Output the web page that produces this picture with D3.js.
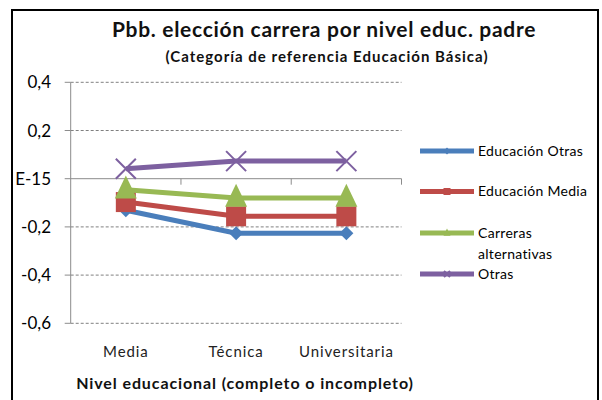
<!DOCTYPE html>
<html>
<head>
<meta charset="utf-8">
<script src="https://cdn.jsdelivr.net/npm/d3@7"></script>
<style>
  body { margin: 0; background: #fff; }
  svg { display: block; font-family: Lato, "Open Sans", sans-serif; }
</style>
</head>
<body>
<div id="chart"></div>
<script>
// Education levels (x categories)
const niveles = ["Media", "Técnica", "Universitaria"];

// One array per series
const educOtras   = [-0.131, -0.226, -0.226];
const educMedia   = [-0.097, -0.156, -0.156];
const carrerasAlt = [-0.046, -0.080, -0.080];
const otras       = [0.041, 0.073, 0.073];

const yTicks = [0.4, 0.2, 0, -0.2, -0.4, -0.6];
// Excel printed the zero as a tiny float, only "E-15" is visible in the frame
const yTickLabels = ["0,4", "0,2", "E-15", "-0,2", "-0,4", "-0,6"];

const seriesNames = ["Educación Otras", "Educación Media", "Carreras alternativas", "Otras"];

const series = [
  { name: seriesNames[0], values: educOtras,   color: "#4A7EBB", marker: "diamond" },
  { name: seriesNames[1], values: educMedia,   color: "#BE4B48", marker: "square" },
  { name: seriesNames[2], values: carrerasAlt, color: "#98B954", marker: "triangle" },
  { name: seriesNames[3], values: otras,       color: "#7D60A0", marker: "x" },
];

const W = 602, H = 400;
const svg = d3.select("#chart").append("svg").attr("width", W).attr("height", H);

const x = d3.scaleBand().domain(niveles).range([70.7, 401.5]);
const y = d3.scaleLinear().domain([-0.6, 0.4]).range([323.3, 82.3]);

const grid = svg.append("g");

// dashed gridlines (zero line drawn solid)
grid.selectAll("line.grid")
  .data(yTicks.filter(d => d !== 0))
  .enter().append("line")
  .attr("x1", x.range()[0]).attr("x2", x.range()[1])
  .attr("y1", d => y(d)).attr("y2", d => y(d))
  .attr("stroke", "#808080").attr("stroke-width", 1)
  .attr("stroke-dasharray", "3,2");

// y axis
grid.append("line")
  .attr("x1", x.range()[0]).attr("x2", x.range()[0])
  .attr("y1", y(0.4)).attr("y2", y(-0.6))
  .attr("stroke", "#8c8c8c");

grid.selectAll("line.ytick")
  .data(yTicks)
  .enter().append("line")
  .attr("x1", x.range()[0] - 6).attr("x2", x.range()[0])
  .attr("y1", d => y(d)).attr("y2", d => y(d))
  .attr("stroke", "#8c8c8c");

// category axis sits on zero
grid.append("line")
  .attr("x1", x.range()[0]).attr("x2", x.range()[1])
  .attr("y1", y(0)).attr("y2", y(0))
  .attr("stroke", "#8c8c8c");

grid.selectAll("line.xtick")
  .data(niveles)
  .enter().append("line")
  .attr("x1", d => x(d) + x.bandwidth()).attr("x2", d => x(d) + x.bandwidth())
  .attr("y1", y(0)).attr("y2", y(0) + 6)
  .attr("stroke", "#8c8c8c");

// y labels
svg.append("g")
  .selectAll("text")
  .data(yTicks)
  .enter().append("text")
  .attr("x", 51).attr("y", d => y(d))
  .attr("dy", "0.36em")
  .attr("text-anchor", "end")
  .attr("font-size", 17)
  .attr("fill", "#000")
  .text((d, i) => yTickLabels[i]);

// x labels
svg.append("g").selectAll("text")
  .data(niveles)
  .enter().append("text")
  .attr("x", d => x(d) + x.bandwidth() / 2)
  .attr("y", 352)
  .attr("dy", "0.35em")
  .attr("text-anchor", "middle")
  .attr("font-size", 15)
  .attr("letter-spacing", 0.9)
  .attr("fill", "#222")
  .text(d => d);

const cx = d => x(d) + x.bandwidth() / 2;
const line = d3.line().x((d, i) => cx(niveles[i])).y(d => y(d));

function drawMarker(g, type, color, px, py, s) {
  if (type === "diamond") {
    g.append("path").attr("d", `M${px},${py - s}L${px + s},${py}L${px},${py + s}L${px - s},${py}Z`).attr("fill", color);
  } else if (type === "square") {
    g.append("rect").attr("x", px - s).attr("y", py - s).attr("width", 2 * s).attr("height", 2 * s).attr("fill", color);
  } else if (type === "triangle") {
    g.append("path").attr("d", `M${px},${py - s * 1.3}L${px + s},${py + s * 0.8}L${px - s},${py + s * 0.8}Z`).attr("fill", color);
  } else {
    g.append("path").attr("d", `M${px - s},${py - s}L${px + s},${py + s}M${px + s},${py - s}L${px - s},${py + s}`)
      .attr("stroke", color).attr("stroke-width", 2).attr("fill", "none");
  }
}

const markerSize = { diamond: 7, square: 10, triangle: 11, x: 10 };

series.forEach(s => {
  const g = svg.append("g");
  g.append("path")
    .datum(s.values)
    .attr("d", line)
    .attr("fill", "none")
    .attr("stroke", s.color)
    .attr("stroke-width", 5);
  s.values.forEach((v, i) => drawMarker(g, s.marker, s.color, cx(niveles[i]), y(v), markerSize[s.marker]));
});

// legend
const legendRows = [
  { lines: ["Educación Otras"], y: 151 },
  { lines: ["Educación Media"], y: 191.5 },
  { lines: ["Carreras", "alternativas"], y: 233 },
  { lines: ["Otras"], y: 274 },
];
const legend = svg.append("g");
series.forEach((s, i) => {
  const r = legendRows[i];
  legend.append("line")
    .attr("x1", 420).attr("x2", 474)
    .attr("y1", r.y).attr("y2", r.y)
    .attr("stroke", s.color).attr("stroke-width", 5);
  drawMarker(legend, s.marker, s.color, 447, r.y, s.marker === "x" ? 3 : 3.5);
  r.lines.forEach((t, j) => {
    legend.append("text")
      .attr("x", 478).attr("y", r.y + j * 21)
      .attr("dy", "0.35em")
      .attr("font-size", 14)
      .attr("letter-spacing", 0.3)
      .attr("fill", "#000")
      .text(t);
  });
});

// titles
svg.append("text")
  .attr("x", 324).attr("y", 30)
  .attr("dy", "0.35em")
  .attr("text-anchor", "middle")
  .attr("font-size", 21)
  .attr("font-weight", "bold")
  .attr("letter-spacing", 0.7)
  .attr("fill", "#111")
  .text("Pbb. elección carrera por nivel educ. padre");

svg.append("text")
  .attr("x", 327).attr("y", 57)
  .attr("dy", "0.35em")
  .attr("text-anchor", "middle")
  .attr("font-size", 15)
  .attr("font-weight", "bold")
  .attr("letter-spacing", 1)
  .attr("fill", "#111")
  .text("(Categoría de referencia Educación Básica)");

svg.append("text")
  .attr("x", 245).attr("y", 383)
  .attr("dy", "0.35em")
  .attr("text-anchor", "middle")
  .attr("font-size", 16)
  .attr("font-weight", "bold")
  .attr("letter-spacing", 0.9)
  .attr("fill", "#111")
  .text("Nivel educacional (completo o incompleto)");

// chart frame
svg.append("rect")
  .attr("x", 12).attr("y", 10)
  .attr("width", 586).attr("height", 400)
  .attr("fill", "none")
  .attr("stroke", "#000").attr("stroke-width", 2);
</script>
</body>
</html>
